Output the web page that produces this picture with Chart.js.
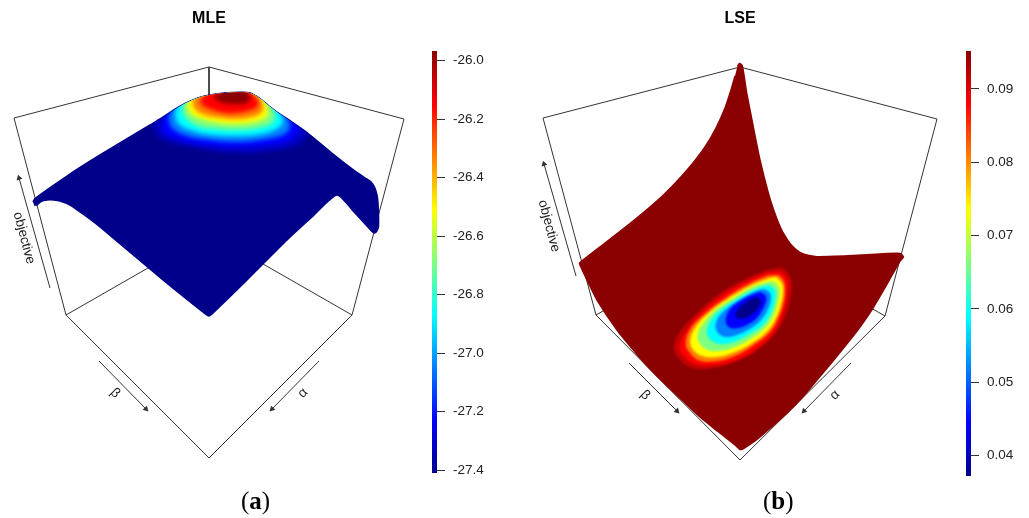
<!DOCTYPE html>
<html>
<head>
<meta charset="utf-8">
<title>MLE / LSE</title>
<script src="https://cdn.jsdelivr.net/npm/chart.js@4"></script>
<style>
  body { margin:0; background:#fff; }
  #page { position:relative; width:1029px; height:518px; overflow:hidden; }
  canvas { position:absolute; top:0; }
  .cap { position:absolute; top:487px; font:25px "Liberation Serif", serif; color:#000; }
</style>
</head>
<body>
<div id="page">
  <canvas id="mle" width="418" height="518" style="left:0"></canvas>
  <canvas id="mleBar" width="60" height="518" style="left:432px"></canvas>
  <canvas id="lse" width="420" height="518" style="left:530px"></canvas>
  <canvas id="lseBar" width="59" height="518" style="left:966px"></canvas>
  <div class="cap" style="left:241px">(<b>a</b>)</div>
  <div class="cap" style="left:763px">(<b>b</b>)</div>
</div>
<script>
// Colour ramp of both colour keys, low to high
const jetColors = ['#00008b','#0000ff','#007fff','#00ffff','#7fff7f','#ffff00','#ff7f00','#ff0000','#8b0000'];

// Colour keys
const mleTicks = [-26.0,-26.2,-26.4,-26.6,-26.8,-27.0,-27.2,-27.4];
const mleRange = [-27.41,-25.967];
const lseTicks = [0.09,0.08,0.07,0.06,0.05,0.04];
const lseRange = [0.03722,0.09518];

// Projected box
const mleBox = [
  [[14,118],[209,67],[404,119],[352,315],[209,458],[66,315],[14,118]],
  [[209,67],[209,233]],
  [[66,315],[209,233],[352,315]]
];
const lseBox = [
  [[543,118],[740,67],[937,119],[885,316],[740,460],[596,315],[543,118]],
  [[740,67],[740,233]],
  [[596,315],[740,233],[885,316]]
];

// Axis arrows [tail, head]
const mleArrows = [[[50,288],[19,178]],[[99,361],[146,409]],[[319,361],[272,409]]];
const lseArrows = [[[576,276],[544,164]],[[629,363],[677,411]],[[851,363],[804,411]]];

const axisNames = ['objective','β','α'];
const mleNameSpots = [[24,238,75],[115,393,45],[303,393,-45]];
const lseNameSpots = [[549,226,75],[645,395,45],[835,395,-45]];

// Surface outlines
const mleSurface = [[33,202],[35,198.5],[67,176],[100,155],[150,125],[160,119],[170,112.5],[177,108],[185,103.5],[193,100],
  [201,97],[210,95],[222,93.3],[233,92.5],[242,92.3],[250,93],[256,96],[262,100],[269,106],[277,112],[292,122],[307,132.5],
  [333,154],[355,171],[366,178.5],[371,182],[374.5,187],[377,195],[378,203],[378.5,215],[378.5,226],[377,231],[374.5,233],[372,231.5],
  [355,213],[337,195],[312,217],[287,240],[247,280],[212,314],[209,316],[206,314.5],[163,280],[100,227],[85,215.5],[70,205],
  [60,201],[54,200],[47,200],[41,201.5],[37,205],[34,205]];
const lseSurface = [[737.5,66],[739.5,63.5],[742,65],[743.5,72],[746.7,93],[750,110],[753.3,127],[760,160],[768.3,193],[774,211],
  [780,226.5],[785,236],[790,243.5],[796,249.5],[802,253.5],[809,255.5],[817,256.7],[835,256.3],[853,255.5],[880,254],[900,253.5],
  [903.5,257],[900,261],[886,286],[873,308],[860,327],[850,340],[833,361],[817,380],[800,400],[784,416],[767,431],[755,441],
  [743.5,448.5],[740,449.5],[735,445],[718,431.5],[700,417],[683,401],[667,386],[650,369],[635,352],[617,330],[597,300],[587,280],
  [580,265],[579.5,263],[605,243],[630,223.5],[650,207],[665,193.5],[680,178],[693,163],[705,147],[716,128],[725,108],[731,90],[735,76]];

// Level curves of the MLE surface, outer to inner
const mleBandColors = ['#0000c4','#0000ff','#007fff','#00ffff','#7fff7f','#ffff00','#ff7f00','#ff0000','#8b0000'];
const mleBands = [
  [[153,123],[157,135],[173,143],[203,149],[237,153],[270,151],[297,145],[305,138],[307,132],[290,100],[230,80],[170,100]],
  [[162,123],[163,132],[177,139],[203,145],[237,147],[270,145],[290,140],[298,132],[297,123],[280,100],[230,80],[175,100]],
  [[168,117],[172,128],[187,136],[210,140],[237,142],[267,139],[285,134],[290,127],[287,117],[270,95],[230,80],[180,95]],
  [[175,112],[178,123],[193,131],[213,135],[237,136],[262,134],[278,128],[283,122],[278,110],[265,92],[230,80],[185,92]],
  [[182,107],[185,117],[198,126],[217,129],[237,130],[258,128],[272,123],[275,115],[272,105],[260,88],[225,80],[190,90]],
  [[187,103],[190,113],[202,119],[220,123],[237,124],[255,122],[266,117],[268,110],[265,101],[255,88],[225,80],[195,88]],
  [[193,101],[194,108],[205,115],[222,118],[237,119],[252,117],[262,112],[263,105],[259,97],[245,85],[220,82],[198,88]],
  [[201,99],[201,104],[210,109],[225,113],[237,113],[248,111],[257,107],[258,101],[253,95],[240,85],[215,85]],
  [[213,97],[222,102.5],[237,104],[246,103],[250,98],[245,90],[225,88]]
];

// Level curves of the LSE surface, outer to inner
const lseBandColors = ['#c50000','#ff0000','#ff7f00','#ffff00','#7fff7f','#00ffff','#007fff','#0000ff','#00008b'];
const lseBands = [
  [[781.7,267.3],[788.3,273.3],[791.7,283.3],[790.7,296.7],[786.7,313.3],[776.7,331.7],[760,348.3],[740,360],[716.7,367.3],[693.3,368.3],[678.3,358.3],[674,346.7],[680,331.7],[696.7,313.3],[720,293.3],[746.7,278.3],[766.7,270]],
  [[780,271.7],[786,276.7],[788.3,285],[786.7,298.3],[782,316],[773,333],[757,348],[737,359.5],[714,365],[695,364],[682.7,355],[679.3,346],[686,331.7],[700.5,313.5],[724,294.5],[749,280.5],[768,272.5]],
  [[778.3,275],[783.3,280],[785,288.3],[784,301],[779,316.5],[770,332],[753,345.5],[735,356],[714,361.5],[698,360],[688.3,350.7],[685.7,343.3],[690,329.5],[705,313.5],[727,297],[750.5,283],[768,275.5]],
  [[776,277],[782,283.5],[783,291.5],[781,304],[776,318],[767,331.5],[752,343],[735,352],[716,357],[701,355.5],[692,348],[690.5,339],[696,326.5],[709.5,312.5],[729.5,298],[751.5,285.5],[768.5,278.5]],
  [[772.5,281],[778.5,286.5],[779.5,293.5],[777.5,304],[772.5,317.5],[764,329],[750.5,339],[735,347],[719,351],[706.5,349.5],[698.5,341.5],[698,333.5],[703.5,323],[715.5,310],[733,298.5],[751.5,287.5],[765.5,282.5]],
  [[769,285],[775,290],[775.5,296],[773.5,306],[768.5,318],[760,327.5],[748,335],[735,341.5],[724,344],[714.5,342.5],[707.5,336],[707.5,328],[713,317.5],[722.5,308.5],[736.5,299.5],[751.5,291],[762,286.5]],
  [[764.5,289],[770,293],[771,298.5],[768.5,308],[763.5,317],[755,325.5],[745,331.5],[734,336],[725.5,337],[718.5,333.5],[715.5,327],[717.5,319],[724.5,310.5],[736,302],[750,294],[758.5,290]],
  [[760,292],[765.5,295.5],[766,301.5],[762,310.5],[756.5,318.5],[747.5,324.5],[738.5,328],[730.5,328],[726,323.5],[726.5,316],[731,308],[739.5,301.5],[750,295.5],[756.5,293]],
  [[757,297],[761,301],[759,307],[753,313.5],[745.5,318],[739,318.5],[735.5,315],[738,309],[745,303],[751,298.5]]
];

const SANS = '"Liberation Sans", Arial, sans-serif';
const INK = '#333';

// Fills the level curves softly, kept inside the surface outline
const bandFill = {
  id: 'bandFill',
  beforeDatasetDraw(chart, args, opts) {
    const ds = chart.data.datasets[args.index];
    if (!ds.band) return;
    const ctx = chart.ctx;
    const outline = chart.getDatasetMeta(chart.data.datasets.findIndex(d => d.surface)).dataset;
    outline.updateControlPoints(chart.chartArea, 'x');
    args.meta.dataset.updateControlPoints(chart.chartArea, 'x');
    ctx.save();
    ctx.beginPath();
    outline.path(ctx);
    ctx.closePath();
    ctx.clip();
    ctx.filter = 'blur(' + opts.blur + 'px)';
    ctx.beginPath();
    args.meta.dataset.path(ctx);
    ctx.closePath();
    ctx.fillStyle = ds.band;
    ctx.fill();
    ctx.restore();
    return false;
  }
};

// Rotated axis names
const axisText = {
  id: 'axisText',
  afterDatasetsDraw(chart, args, opts) {
    const ctx = chart.ctx;
    opts.spots.forEach((s, i) => {
      ctx.save();
      ctx.translate(chart.scales.x.getPixelForValue(s[0]), chart.scales.y.getPixelForValue(s[1]));
      ctx.rotate(s[2] * Math.PI / 180);
      ctx.font = '13.5px ' + SANS;
      ctx.fillStyle = '#222';
      ctx.textAlign = 'center';
      ctx.textBaseline = 'middle';
      ctx.fillText(axisNames[i], 0, 0);
      ctx.restore();
    });
  }
};

function lineSet(points, extra) {
  return Object.assign({
    data: points, showLine: true, pointRadius: 0, borderColor: INK, borderWidth: 1, fill: false, tension: 0
  }, extra);
}

function arrowSet(arrow) {
  const dx = arrow[1][0] - arrow[0][0];
  const dy = arrow[1][1] - arrow[0][1];
  const angle = Math.atan2(dx, -dy) * 180 / Math.PI;
  return lineSet(arrow, {
    pointStyle: 'triangle',
    pointRadius: [0, 3.5],
    pointRotation: [0, angle],
    pointBackgroundColor: INK,
    pointBorderWidth: 0
  });
}

function drawPanel(id, title, xRange, box, arrows, surface, surfaceColor, bands, bandColors, spots, blur) {
  const sets = [];
  box.forEach(b => sets.push(lineSet(b)));
  arrows.forEach(a => sets.push(arrowSet(a)));
  sets.push(lineSet(surface, {
    surface: true, borderColor: surfaceColor, backgroundColor: surfaceColor,
    borderWidth: 1.5, fill: 'shape', tension: 0.2, borderJoinStyle: 'round'
  }));
  bands.forEach((b, i) => sets.push(lineSet(b, { band: bandColors[i], tension: 0.4, borderWidth: 0 })));
  // first dataset is painted last otherwise
  sets.forEach((s, i) => { s.order = sets.length - i; });

  new Chart(document.getElementById(id), {
    type: 'scatter',
    data: { datasets: sets },
    options: {
      responsive: false,
      animation: false,
      events: [],
      layout: { autoPadding: false },
      scales: {
        x: { type: 'linear', display: false, min: xRange[0], max: xRange[1] },
        y: { type: 'linear', display: false, min: 36, max: 518, reverse: true }
      },
      plugins: {
        legend: { display: false },
        tooltip: { enabled: false },
        title: {
          display: true, text: title, color: '#000',
          font: { family: SANS, size: 16, weight: 'bold', lineHeight: 1 },
          padding: { top: 11, bottom: 9 }
        },
        bandFill: { blur: blur },
        axisText: { spots: spots }
      }
    },
    plugins: [bandFill, axisText]
  });
}

function drawKey(id, range, ticks, digits, top, bottom, axisWidth, tickLen) {
  new Chart(document.getElementById(id), {
    type: 'bar',
    data: {
      labels: [''],
      datasets: [{
        data: [range],
        barPercentage: 1,
        categoryPercentage: 1,
        backgroundColor(c) {
          const area = c.chart.chartArea;
          if (!area) return jetColors[0];
          const g = c.chart.ctx.createLinearGradient(0, area.bottom, 0, area.top);
          jetColors.forEach((col, i) => g.addColorStop(i / (jetColors.length - 1), col));
          return g;
        }
      }]
    },
    options: {
      responsive: false,
      animation: false,
      events: [],
      layout: { autoPadding: false, padding: { top: top, bottom: 518 - bottom } },
      scales: {
        x: { display: false },
        y: {
          position: 'right', min: range[0], max: range[1],
          border: { display: false },
          grid: { drawOnChartArea: false, drawTicks: true, tickLength: tickLen, color: INK },
          ticks: {
            padding: 8, color: '#222', autoSkip: false,
            font: { family: SANS, size: 13.5 },
            callback: v => v.toFixed(digits)
          },
          afterBuildTicks(scale) { scale.ticks = ticks.map(v => ({ value: v })); },
          afterFit(scale) { scale.width = axisWidth; }
        }
      },
      plugins: { legend: { display: false }, tooltip: { enabled: false }, title: { display: false } }
    }
  });
}

drawPanel('mle', 'MLE', [0,418], mleBox, mleArrows, mleSurface, '#00008b', mleBands, mleBandColors, mleNameSpots, 2.2);
drawPanel('lse', 'LSE', [530,950], lseBox, lseArrows, lseSurface, '#8b0000', lseBands, lseBandColors, lseNameSpots, 1.2);
drawKey('mleBar', mleRange, mleTicks, 1, 51, 473, 55, 8);
drawKey('lseBar', lseRange, lseTicks, 2, 51, 476, 54, 8);
</script>
</body>
</html>
